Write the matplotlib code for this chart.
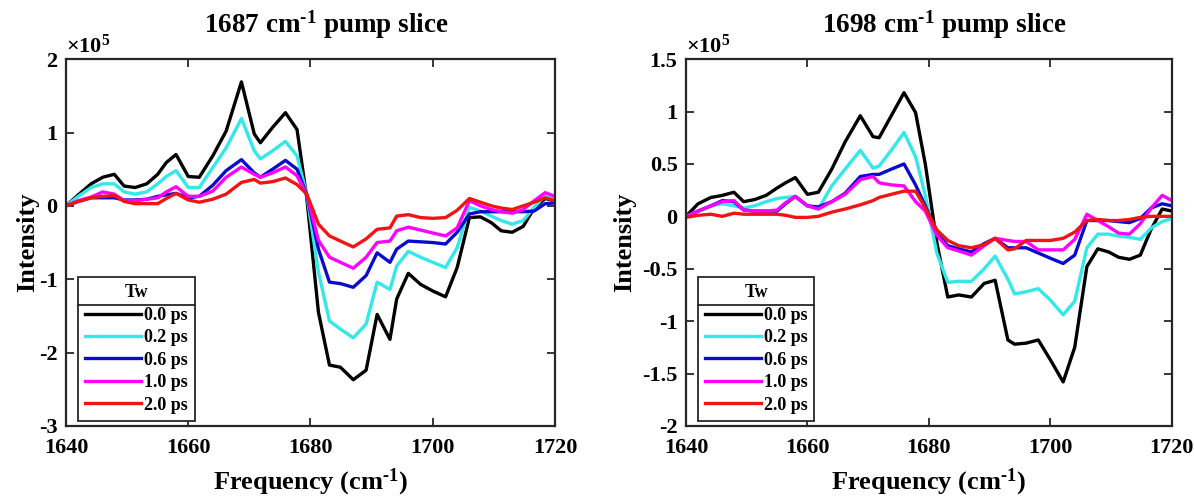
import numpy as np
import matplotlib
matplotlib.use('Agg')
import matplotlib.pyplot as plt
from matplotlib.lines import Line2D
from matplotlib.ticker import FormatStrFormatter

plt.rcParams['font.family'] = ['Liberation Serif', 'DejaVu Serif']
plt.rcParams['font.weight'] = 'bold'
plt.rcParams['axes.unicode_minus'] = False
plt.rcParams['mathtext.fontset'] = 'custom'
plt.rcParams['mathtext.rm'] = 'Liberation Serif'
plt.rcParams['mathtext.bf'] = 'Liberation Serif:bold'
plt.rcParams['mathtext.it'] = 'Liberation Serif:italic'

# probe frequency axis (cm^-1)
freq = [1640.0, 1642.0, 1644.1, 1646.0, 1647.9, 1649.5, 1651.3, 1653.2, 1655.0, 1656.4,
        1658.0, 1660.0, 1661.8, 1664.0, 1666.2, 1668.7, 1670.8, 1671.8, 1673.8, 1675.9,
        1677.8, 1679.4, 1681.3, 1683.1, 1684.9, 1687.0, 1689.1, 1690.9, 1693.0, 1694.1,
        1696.0, 1698.0, 1700.0, 1702.1, 1704.0, 1706.0, 1707.8, 1709.6, 1711.2, 1713.0,
        1714.8, 1716.6, 1718.4, 1720.0]

tw_labels = ['0.0 ps', '0.2 ps', '0.6 ps', '1.0 ps', '2.0 ps']
colors = ['#000000', '#33e8e8', '#0a0acd', '#ff00ff', '#f01414']

# 1687 cm-1 pump slice, intensity in units of 1e5
p1687_00 = [0.0, 0.15, 0.30, 0.39, 0.43, 0.27, 0.25, 0.30, 0.43, 0.59,
            0.70, 0.40, 0.39, 0.68, 1.02, 1.69, 0.98, 0.86, 1.07, 1.27,
            1.04, 0.10, -1.45, -2.17, -2.20, -2.37, -2.24, -1.48, -1.82, -1.27,
            -0.92, -1.07, -1.16, -1.24, -0.84, -0.16, -0.15, -0.23, -0.34, -0.36,
            -0.28, -0.03, 0.10, 0.07]
p1687_02 = [0.0, 0.13, 0.25, 0.30, 0.30, 0.19, 0.16, 0.19, 0.30, 0.40,
            0.48, 0.25, 0.25, 0.52, 0.79, 1.19, 0.75, 0.64, 0.75, 0.88,
            0.68, 0.15, -0.90, -1.57, -1.68, -1.80, -1.61, -1.04, -1.14, -0.82,
            -0.62, -0.70, -0.77, -0.84, -0.57, -0.02, -0.07, -0.14, -0.20, -0.25,
            -0.20, -0.02, 0.14, 0.11]
p1687_06 = [0.0, 0.06, 0.11, 0.11, 0.11, 0.08, 0.08, 0.09, 0.13, 0.15,
            0.17, 0.11, 0.13, 0.28, 0.48, 0.63, 0.45, 0.39, 0.50, 0.62,
            0.50, 0.15, -0.59, -1.04, -1.06, -1.11, -0.95, -0.64, -0.77, -0.59,
            -0.48, -0.49, -0.50, -0.52, -0.36, -0.11, -0.08, -0.08, -0.08, -0.08,
            -0.08, -0.07, 0.03, 0.04]
p1687_10 = [0.0, 0.07, 0.12, 0.19, 0.16, 0.07, 0.07, 0.09, 0.11, 0.19,
            0.26, 0.13, 0.13, 0.20, 0.39, 0.53, 0.43, 0.39, 0.45, 0.53,
            0.41, 0.15, -0.47, -0.70, -0.77, -0.85, -0.70, -0.50, -0.48, -0.34,
            -0.29, -0.33, -0.37, -0.41, -0.30, 0.07, 0.00, -0.05, -0.08, -0.10,
            -0.05, 0.07, 0.18, 0.13]
p1687_20 = [0.0, 0.06, 0.11, 0.13, 0.14, 0.06, 0.03, 0.03, 0.03, 0.10,
            0.17, 0.08, 0.05, 0.09, 0.16, 0.32, 0.36, 0.31, 0.33, 0.38,
            0.29, 0.16, -0.25, -0.41, -0.48, -0.56, -0.45, -0.32, -0.30, -0.14,
            -0.12, -0.16, -0.17, -0.16, -0.06, 0.10, 0.05, 0.00, -0.03, -0.05,
            0.00, 0.05, 0.11, 0.07]

# 1698 cm-1 pump slice
p1698_00 = [0.0, 0.12, 0.18, 0.20, 0.23, 0.14, 0.16, 0.20, 0.27, 0.32,
            0.37, 0.21, 0.23, 0.45, 0.71, 0.96, 0.76, 0.75, 0.96, 1.18,
            0.99, 0.50, -0.25, -0.77, -0.75, -0.77, -0.64, -0.61, -1.18, -1.22,
            -1.21, -1.18, -1.37, -1.58, -1.25, -0.48, -0.31, -0.34, -0.39, -0.41,
            -0.37, -0.12, 0.07, 0.05]
p1698_02 = [0.0, 0.05, 0.10, 0.12, 0.10, 0.08, 0.10, 0.14, 0.17, 0.18,
            0.19, 0.10, 0.07, 0.29, 0.45, 0.63, 0.46, 0.48, 0.63, 0.80,
            0.57, 0.20, -0.35, -0.63, -0.62, -0.62, -0.50, -0.38, -0.60, -0.74,
            -0.72, -0.69, -0.80, -0.94, -0.81, -0.30, -0.17, -0.17, -0.19, -0.20,
            -0.22, -0.11, -0.05, -0.02]
p1698_06 = [0.0, 0.05, 0.10, 0.15, 0.14, 0.06, 0.05, 0.05, 0.05, 0.12,
            0.19, 0.10, 0.09, 0.14, 0.22, 0.38, 0.40, 0.40, 0.45, 0.50,
            0.30, 0.10, -0.15, -0.28, -0.31, -0.34, -0.26, -0.21, -0.30, -0.30,
            -0.30, -0.35, -0.40, -0.45, -0.37, -0.04, -0.04, -0.04, -0.05, -0.06,
            -0.02, 0.08, 0.12, 0.10]
p1698_10 = [0.0, 0.05, 0.10, 0.14, 0.15, 0.06, 0.05, 0.05, 0.06, 0.13,
            0.19, 0.10, 0.07, 0.14, 0.21, 0.35, 0.38, 0.32, 0.30, 0.29,
            0.14, 0.05, -0.18, -0.30, -0.33, -0.37, -0.28, -0.21, -0.23, -0.24,
            -0.24, -0.32, -0.32, -0.32, -0.22, 0.02, -0.04, -0.10, -0.16, -0.17,
            -0.07, 0.08, 0.20, 0.15]
p1698_20 = [-0.01, 0.01, 0.02, 0.00, 0.03, 0.02, 0.02, 0.02, 0.02, 0.01,
            -0.01, -0.01, 0.00, 0.04, 0.07, 0.11, 0.15, 0.18, 0.21, 0.24,
            0.24, 0.08, -0.13, -0.23, -0.28, -0.30, -0.27, -0.21, -0.32, -0.31,
            -0.23, -0.23, -0.23, -0.21, -0.15, -0.04, -0.03, -0.04, -0.04, -0.03,
            -0.01, 0.00, 0.00, 0.00]

panels = [
    ('1687', [p1687_00, p1687_02, p1687_06, p1687_10, p1687_20], (-3, 2),
     [-3, -2, -1, 0, 1, 2], -0.055),
    ('1698', [p1698_00, p1698_02, p1698_06, p1698_10, p1698_20], (-2, 1.5),
     [-2, -1.5, -1, -0.5, 0, 0.5, 1, 1.5], -0.103),
]

fig = plt.figure(figsize=(11.94, 4.97), dpi=100)
ax_pos = [[0.0553, 0.143, 0.4095, 0.738], [0.5745, 0.143, 0.407, 0.738]]
spine_col = '#262626'
sup = '$^{\\mathbf{\u20101}}$'  # superscript "-1" with a short hyphen

legends = []
for pos, (pump, series, ylim, yticks, ylab_x) in zip(ax_pos, panels):
    ax = fig.add_axes(pos)
    for y, c, lab in zip(series, colors, tw_labels):
        ax.plot(freq, y, color=c, lw=2.4, label=lab)
    ax.set_xlim(1640, 1720)
    ax.set_ylim(*ylim)
    ax.set_xticks([1640, 1660, 1680, 1700, 1720])
    ax.set_yticks(yticks)
    ax.yaxis.set_major_formatter(FormatStrFormatter('%g'))
    ax.tick_params(direction='in', length=6, width=1.3, top=True, right=True,
                   labelsize=16, color=spine_col)
    ax.tick_params(axis='x', pad=9)
    ax.tick_params(axis='y', pad=6)
    for s in ax.spines.values():
        s.set_linewidth(1.6)
        s.set_color(spine_col)
    ax.set_title(pump + ' cm' + sup + ' pump slice', fontsize=19.5,
                 fontweight='bold', pad=19, x=0.532)
    ax.set_xlabel('Frequency (cm' + sup + ')', fontsize=19, fontweight='bold', labelpad=6)
    ax.set_ylabel('Intensity', fontsize=19, fontweight='bold')
    ax.yaxis.set_label_coords(ylab_x, 0.5)
    ax.text(0.0, 1.004, r'$\times\mathrm{10}^{\mathrm{5}}$', transform=ax.transAxes,
            fontsize=16, fontweight='normal', ha='left', va='bottom')
    leg = ax.legend(title='Tw', loc='lower left', bbox_to_anchor=(0.024, 0.014),
                    fontsize=13, title_fontproperties={'weight': 'bold', 'size': 13},
                    fancybox=False, edgecolor=spine_col, framealpha=1,
                    handlelength=3.1, handletextpad=0.15, labelspacing=0.3,
                    borderpad=0.4, borderaxespad=0)
    leg.get_frame().set_linewidth(1.3)
    legends.append((ax, leg))

# separator line under the legend title (MATLAB style)
fig.canvas.draw()
inv = fig.transFigure.inverted()
for ax, leg in legends:
    fb = leg.get_frame().get_window_extent()
    tb = leg.get_title().get_window_extent()
    y = tb.y0 - 4
    (x0, yy), (x1, _) = inv.transform([(fb.x0, y), (fb.x1, y)])
    fig.add_artist(Line2D([x0, x1], [yy, yy], transform=fig.transFigure,
                          color=spine_col, lw=1.3))

fig.savefig('out.png', dpi=100)
